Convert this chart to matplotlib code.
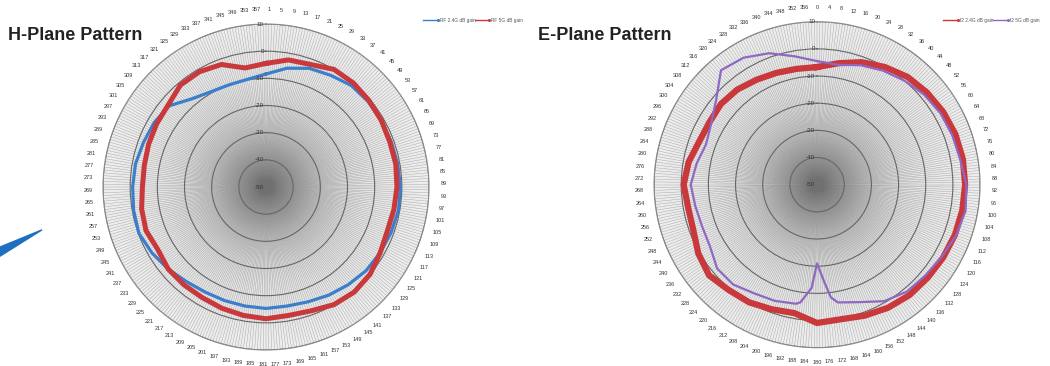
import numpy as np
import matplotlib
matplotlib.use("Agg")
import matplotlib.pyplot as plt
from matplotlib.lines import Line2D
from matplotlib.patches import Polygon

plt.rcParams["font.family"] = ["Liberation Sans", "DejaVu Sans"]

# radial axis (dB)
R_MIN, R_MAX = -50, 10
RINGS = [-50, -40, -30, -20, -10, 0, 10]

# H-plane, sampled every 10 degrees
h_angles = list(range(0, 360, 10))
h_blue = [-8.4, -5.6, -3.5, -2.5, -1.2, -1.0, -1.0, -1.0, -0.8, -0.5,
          -0.5, -1.0, -1.5, -2.0, -3.0, -4.0, -5.0, -5.5, -5.3, -5.5,
          -5.5, -5.3, -4.5, -3.0, -1.5, -0.2, -0.5, -0.9, -1.2, -2.0,
          -2.5, -3.5, -7.6, -9.5, -10.0, -9.8]
h_red = [-4.5, -2.5, -2.0, 0.0, 0.0, -0.5, -1.0, -1.5, -1.5, -1.8,
         -2.2, -2.5, -1.5, 0.0, 0.5, 0.0, -1.5, -2.0, -1.5, -2.0,
         -2.5, -3.0, -3.0, -3.0, -4.0, -3.0, -3.5, -4.5, -4.5, -4.0,
         -3.5, -3.0, -1.0, -1.0, -2.0, -5.5]

# E-plane
e_angles = list(range(0, 360, 10))
e_red = [-6.7, -4.6, -2.0, 0.0, 1.8, 2.8, 3.6, 4.2, 4.5, 4.5,
         4.3, 4.0, 3.6, 3.2, 3.0, 2.3, 1.3, 0.3, 0.9, -2.0,
         -1.2, 0.0, 0.6, 1.9, 0.5, -1.5, -1.8, -0.9, -2.0, -3.8,
         -4.2, -3.8, -4.3, -5.4, -6.2, -6.7]
e_purple_angles = [0, 10, 20, 30, 40, 50, 60, 70, 80, 90, 100, 110, 120, 130,
                   140, 150, 160, 170, 173, 176, 180, 183, 188, 190, 200, 210,
                   220, 230, 240, 250, 260, 270, 280, 290, 300, 310, 320, 330,
                   340, 350]
e_purple = [-4.5, -5.2, -3.2, -1.5, 0.0, 1.5, 2.5, 3.0, 3.5, 5.0, 5.5,
            4.5, 3.0, 2.0, 1.4, -0.5, -4.0, -6.0, -8.2, -14.6, -21.0, -12.0,
            -6.3, -5.5, -4.5, -3.8, -2.0, -2.0, -4.5, -5.0, -4.5, -3.5, -5.0,
            -6.5, -5.0, -1.5, 5.0, 4.0, 1.5, -2.0]

RED = "#c9383b"
BLUE = "#3b7fcc"
PURPLE = "#8e68c2"

# background shading of the plot area (grey level per radius)
SHADE_R = [-50, -40, -30, -20, -10, 10]
SHADE_G = [0.60, 0.68, 0.80, 0.87, 0.90, 0.93]


def closed(angles, values):
    th = np.deg2rad(list(angles) + [angles[0]])
    return th, list(values) + [values[0]]


def setup_polar(ax, first_label):
    ax.set_theta_zero_location("N")
    ax.set_theta_direction(-1)
    ax.set_ylim(R_MIN, R_MAX)
    th_edges = np.linspace(0, 2 * np.pi, 73)
    r_edges = np.linspace(R_MIN, R_MAX, 61)
    r_mid = 0.5 * (r_edges[:-1] + r_edges[1:])
    shade = np.interp(r_mid, SHADE_R, SHADE_G)[:, None] * np.ones((1, 72))
    ax.pcolormesh(th_edges, r_edges, shade, cmap="gray", vmin=0, vmax=1,
                  shading="flat", zorder=0)
    # one spoke per category, like the spreadsheet radar
    ax.vlines(np.deg2rad(np.arange(360)), R_MIN, R_MAX, color="#707070",
              lw=0.3, alpha=0.6, zorder=1)
    ax.set_yticks(RINGS)
    ax.set_yticklabels([])
    ax.yaxis.grid(True, color="#666666", lw=0.8)
    ax.xaxis.grid(False)
    ticks = np.arange(first_label, 360, 4)
    ax.set_xticks(np.deg2rad(ticks))
    ax.set_xticklabels([str(t) for t in ticks], fontsize=4.0, color="#333333")
    ax.tick_params(axis="x", pad=0)
    ax.spines["polar"].set_color("#8a8a8a")
    ax.spines["polar"].set_linewidth(0.8)
    for v in RINGS:
        ax.annotate(str(v), xy=(0, v), xytext=(-1.5, 0), textcoords="offset points",
                    ha="right", va="center", fontsize=4.5, color="#333333", zorder=5)


fig = plt.figure(figsize=(10.5, 3.66), dpi=100)

ax_h = fig.add_axes([0.0981, 0.0437, 0.3105, 0.8907], projection="polar")
setup_polar(ax_h, 1)
th, r = closed(h_angles, h_blue)
ax_h.plot(th, r, color=BLUE, lw=2.3, zorder=3)
th, r = closed(h_angles, h_red)
ax_h.plot(th, r, color=RED, lw=3.6, zorder=4)

ax_e = fig.add_axes([0.6229, 0.050, 0.3105, 0.8907], projection="polar")
setup_polar(ax_e, 0)
th, r = closed(e_angles, e_red)
ax_e.plot(th, r, color=RED, lw=4.5, zorder=3)
th, r = closed(e_purple_angles, e_purple)
ax_e.plot(th, r, color=PURPLE, lw=1.6, zorder=4)

fig.text(0.008, 0.904, "H-Plane Pattern", fontsize=13, fontweight="bold",
         color="#222222", va="center")
fig.text(0.512, 0.904, "E-Plane Pattern", fontsize=13, fontweight="bold",
         color="#222222", va="center")


def legend_item(x0, y, color, label):
    fig.add_artist(Line2D([x0, x0 + 0.014], [y, y], color=color, lw=1.0,
                          marker="o", markersize=1.2, markevery=[1],
                          transform=fig.transFigure))
    fig.text(x0 + 0.016, y, label, fontsize=3.4, color="#555555", va="center")


legend_item(0.403, 0.945, BLUE, "RF 2.4G dB gain")
legend_item(0.452, 0.945, RED, "RF 5G dB gain")
legend_item(0.898, 0.945, RED, "f2 2.4G dB gain")
legend_item(0.946, 0.945, PURPLE, "f2 5G dB gain")

# blue pointer at the left edge
fig.add_artist(Polygon([[0.0, 0.30], [0.040, 0.372], [0.0, 0.325]], closed=True,
                       color="#1f6fc0", transform=fig.transFigure))

fig.savefig("out.png", dpi=100)
